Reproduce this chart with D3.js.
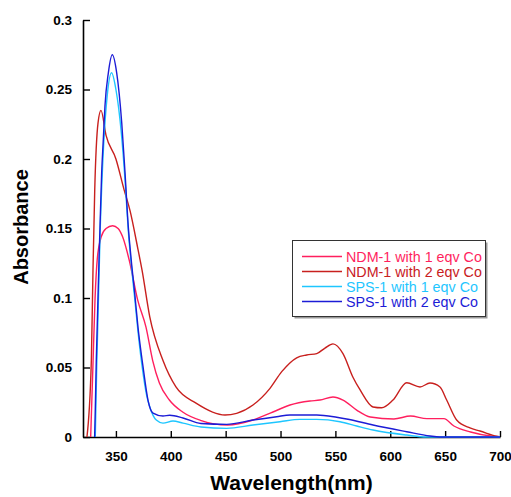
<!DOCTYPE html>
<html>
<head>
<meta charset="utf-8">
<script src="https://cdn.jsdelivr.net/npm/d3@7"></script>
<style>
  body { margin: 0; background: #fff; }
  text { font-family: Arial, "Liberation Sans", sans-serif; }
</style>
</head>
<body>
<div id="chart-area"></div>
<script>
// absorbance spectra, [wavelength nm, absorbance]
var ndm1 = [[327,0],[329,0.05],[331,0.1],[333,0.128],[336.6,0.144],[341,0.15],[347,0.152],[352,0.15],[356.1,0.144],
    [362.2,0.127],[369.8,0.0986],[377.4,0.079],[383.5,0.055],[389.6,0.0388],[398.7,0.0266],[410.8,0.018],[427,0.012],
    [451.6,0.0086],[474.9,0.0122],[493.1,0.018],[508.6,0.023],[526.8,0.0259],[535.9,0.0266],[547.8,0.0288],[556.9,0.0266],
    [569.4,0.0194],[581.8,0.0144],[603.3,0.013],[618.5,0.0151],[633.4,0.0132],[648.9,0.0132],[658,0.0079],[673.2,0.0036],
    [691.4,0.0007],[700,0]];
var ndm2 = [[323.6,0],[327.6,0.055],[329.1,0.12],[330.7,0.178],[333.7,0.226],[336.4,0.235],[341,0.217],[350,0.2],
    [357.4,0.178],[362.8,0.163],[370.1,0.135],[373.8,0.12],[380.8,0.0866],[392.9,0.055],[404.7,0.036],[423,0.0244],
    [449.4,0.0158],[460,0.017],[474.9,0.023],[490.4,0.035],[501.1,0.047],[514.7,0.057],[523.8,0.059],[533,0.06],
    [540.5,0.064],[547.8,0.067],[556.9,0.06],[566,0.043],[572.4,0.034],[584.3,0.0216],[592.2,0.021],[602.5,0.0266],
    [615,0.039],[627.1,0.036],[636.2,0.0388],[645.3,0.036],[651.4,0.0266],[660.5,0.0122],[672.6,0.0065],[681.8,0.0043],
    [697,0.0005],[700,0]];
var sps1 = [[331.2,0],[332.5,0.05],[335.7,0.15],[338.8,0.21],[342,0.245],[346,0.262],[350,0.25],[355,0.218],
    [358.3,0.185],[361.3,0.148],[364,0.124],[367.1,0.1],[370.1,0.076],[374.7,0.046],[378,0.03],[380.8,0.0218],
    [386.8,0.0122],[392.9,0.01],[402,0.0115],[411.1,0.01],[427.5,0.0072],[450.9,0.0062],[474.9,0.0086],[499.5,0.011],
    [517.7,0.0127],[533,0.0127],[554.2,0.011],[569.4,0.0079],[584.3,0.005],[615,0.0014],[633,0],[700,0]];
var sps2 = [[330.6,0],[331.2,0.02],[332.1,0.055],[335.5,0.151],[337,0.19],[338.5,0.214],[340,0.238],[343.1,0.262],
    [346.7,0.275],[350.7,0.262],[355.3,0.226],[358.3,0.19],[361.3,0.151],[364,0.127],[367.1,0.1036],[370.1,0.079],
    [374.7,0.0506],[379.2,0.0266],[383.8,0.0172],[392.9,0.0151],[399,0.0156],[411.1,0.0137],[427.5,0.0097],
    [450.9,0.0091],[474.9,0.0122],[496.5,0.0146],[508.6,0.0158],[533,0.0158],[551.2,0.0142],[561.5,0.0128],
    [584.3,0.0086],[615,0.0038],[636.2,0.0007],[645,0],[700,0]];

var seriesNames = ["NDM-1 with 1 eqv Co", "NDM-1 with 2 eqv Co", "SPS-1 with 1 eqv Co", "SPS-1 with 2 eqv Co"];
var seriesData = [ndm1, ndm2, sps1, sps2];
var seriesColors = ["#ff1f5e", "#c8201e", "#1ec6ff", "#1c1cd6"];

var xTicks = [350, 400, 450, 500, 550, 600, 650, 700];
var yTicks = [0, 0.05, 0.1, 0.15, 0.2, 0.25, 0.3];
var yTickLabels = ["0", "0.05", "0.1", "0.15", "0.2", "0.25", "0.3"];

var svg = d3.select("#chart-area").append("svg")
    .attr("width", 511)
    .attr("height", 497);

var x = d3.scaleLinear().domain([320, 700]).range([83, 500]);
var y = d3.scaleLinear().domain([0, 0.3]).range([437, 20]);

// axes
var xAxis = d3.axisBottom(x).tickValues(xTicks).tickSizeInner(-6).tickSizeOuter(0).tickPadding(14);
var yAxis = d3.axisLeft(y).tickValues(yTicks).tickSizeInner(-7).tickSizeOuter(0).tickPadding(18)
    .tickFormat((d, i) => yTickLabels[i]);

var gx = svg.append("g").attr("transform", "translate(0,437)").call(xAxis);
var gy = svg.append("g").attr("transform", "translate(83,0)").call(yAxis);

[gx, gy].forEach((g) => {
    g.select(".domain").attr("stroke", "#000").attr("stroke-width", 1.6);
    g.selectAll(".tick line").attr("stroke", "#000").attr("stroke-width", 1.4);
    g.selectAll(".tick text")
        .attr("fill", "#000")
        .style("font-family", "Arial, 'Liberation Sans', sans-serif")
        .style("font-size", "13.5px")
        .style("font-weight", "bold");
});
gy.selectAll(".tick text").attr("x", -11);

// curves
var line = d3.line()
    .x((d) => x(d[0]))
    .y((d) => y(d[1]))
    .curve(d3.curveMonotoneX);

seriesData.forEach((s, i) => {
    svg.append("path")
        .datum(s)
        .attr("fill", "none")
        .attr("stroke", seriesColors[i])
        .attr("stroke-width", 1.4)
        .attr("d", line);
});

// axis titles
svg.append("text")
    .attr("x", 291.5)
    .attr("y", 490)
    .attr("text-anchor", "middle")
    .style("font-size", "21px")
    .style("font-weight", "bold")
    .text("Wavelength(nm)");

svg.append("text")
    .attr("transform", "translate(27.5,227) rotate(-90)")
    .attr("text-anchor", "middle")
    .style("font-size", "20px")
    .style("font-weight", "bold")
    .text("Absorbance");

// legend
var legend = svg.append("g");
legend.append("rect")
    .attr("x", 294.5).attr("y", 242.5)
    .attr("width", 193).attr("height", 76)
    .attr("fill", "#999");
legend.append("rect")
    .attr("x", 292.5).attr("y", 240.5)
    .attr("width", 193).attr("height", 76)
    .attr("fill", "#fff")
    .attr("stroke", "#333")
    .attr("stroke-width", 1);

seriesNames.forEach((name, i) => {
    var ly = 256.5 + i * 15;
    legend.append("line")
        .attr("x1", 302).attr("x2", 342)
        .attr("y1", ly).attr("y2", ly)
        .attr("stroke", seriesColors[i])
        .attr("stroke-width", 1.4);
    legend.append("text")
        .attr("x", 346)
        .attr("y", ly + 5)
        .attr("fill", seriesColors[i])
        .style("font-size", "14.3px")
        .text(name);
});
</script>
</body>
</html>
